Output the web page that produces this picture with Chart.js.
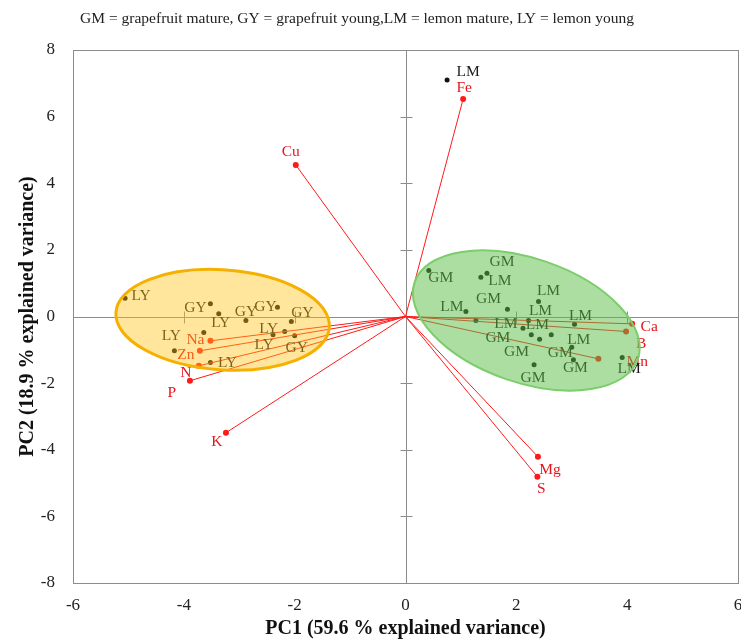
<!DOCTYPE html>
<html>
<head>
<meta charset="utf-8">
<script src="https://cdn.jsdelivr.net/npm/chart.js@4.4.1/dist/chart.umd.min.js"></script>
<style>
  html, body { margin: 0; padding: 0; background: #fff; }
</style>
</head>
<body>
<canvas id="myChart" width="741" height="642"></canvas>
<script>
// texts
const headerText = 'GM = grapefruit mature, GY = grapefruit young,LM = lemon mature, LY = lemon young';
const xTitle = 'PC1 (59.6 % explained variance)';
const yTitle = 'PC2 (18.9 % explained variance)';
const xTicks = [-6, -4, -2, 0, 2, 4, 6];
const yTicks = [-8, -6, -4, -2, 0, 2, 4, 6, 8];

// sample scores (PC1, PC2)
const gmPC1 = [0.42, 1.47, 1.84, 1.27, 2.42, 2.63, 2.32, 3.03];
const gmPC2 = [1.38, 1.30, 0.22, -0.12, -0.68, -0.55, -1.45, -1.30];
const gyPC1 = [-3.52, -2.88, -2.31, -2.06, -2.00];
const gyPC2 = [0.38, -0.12, 0.28, -0.15, -0.58];
const lmPC1 = [0.75, 1.36, 1.09, 2.40, 2.22, 2.12, 2.27, 3.05, 3.00, 3.91];
const lmPC2 = [7.10, 1.18, 0.15, 0.45, -0.12, -0.35, -0.55, -0.23, -0.92, -1.23];
const lyPC1 = [-5.06, -3.37, -3.64, -4.17, -3.52, -2.39, -2.18];
const lyPC2 = [0.55, 0.08, -0.48, -1.03, -1.38, -0.55, -0.45];

// variable loadings
const variableNames = ['Cu', 'Fe', 'K', 'Mg', 'S', 'Ca', 'B', 'Mn', 'Na', 'Zn', 'N', 'P'];
const loadPC1 = [-1.98, 1.04, -3.24, 2.39, 2.38, 4.09, 3.98, 3.48, -3.52, -3.71, -3.73, -3.89];
const loadPC2 = [4.55, 6.53, -3.49, -4.21, -4.81, -0.22, -0.45, -1.27, -0.73, -1.03, -1.48, -1.93];

// group ellipses (young / mature)
const ellipseCenterX = [-3.30, 2.18];
const ellipseCenterY = [-0.10, -0.12];
const ellipseRadiusX = [1.93, 2.13];
const ellipseRadiusY = [1.50, 1.86];
const ellipseAngle = [4, 19];

// label placement (pixel offsets from the point)
const gmLabelOffsets = [[12, 7], [15, -11], [-19, -10], [22, 17], [-23, 13], [9, 18], [-1, 13], [2, 8]];
const gyLabelOffsets = [[-15, 4], [0, -9], [-12, 0], [11, -9], [2, 12]];
const lmLabelOffsets = [[21, -8], [19, 4], [-14, -5], [10, -11], [12, -10], [-17, -4], [6, -10], [6, -8], [7, -7], [7, 11]];
const lyLabelOffsets = [[16, -2], [2, 9], null, [-3, -15], [17, 0], [-9, 10], [-16, -3]];
const varLabelOffsets = [[-5, -13], [1, -11], [-9, 9], [12, 13], [4, 12], [17, 3], [15, 12], [39, 3], [-15, -1], [-14, 4], [-13, 7], [-18, 12]];

const serif = "'Liberation Serif', 'Times New Roman', serif";
const red = '#ff1a1a';

function pts(xs, ys) {
  return xs.map((v, i) => ({ x: v, y: ys[i] }));
}

const datasets = [];

variableNames.forEach((name, i) => {
  datasets.push({
    data: [{ x: 0, y: 0 }, { x: loadPC1[i], y: loadPC2[i] }],
    showLine: true,
    borderColor: red,
    borderWidth: 1,
    pointRadius: [0, 3],
    pointBackgroundColor: red,
    pointBorderWidth: 0,
    pointLabels: ['', name],
    labelOffsets: [null, varLabelOffsets[i]],
    labelColor: '#e8141c'
  });
});

function sampleSet(name, xs, ys, offsets) {
  return {
    data: pts(xs, ys),
    showLine: false,
    pointRadius: 2.5,
    pointBackgroundColor: '#111',
    pointBorderWidth: 0,
    pointLabels: xs.map(() => name),
    labelOffsets: offsets,
    labelColor: '#1a1a1a'
  };
}

datasets.push(sampleSet('GM', gmPC1, gmPC2, gmLabelOffsets));
datasets.push(sampleSet('GY', gyPC1, gyPC2, gyLabelOffsets));
datasets.push(sampleSet('LM', lmPC1, lmPC2, lmLabelOffsets));
datasets.push(sampleSet('LY', lyPC1, lyPC2, lyLabelOffsets));

const framePlugin = {
  id: 'frame',
  beforeDatasetsDraw(chart) {
    const { ctx, chartArea: a, scales: { x, y } } = chart;
    const x0 = Math.round(x.getPixelForValue(0)) + 0.5;
    const y0 = Math.round(y.getPixelForValue(0)) + 0.5;
    ctx.save();
    ctx.strokeStyle = '#8c8c8c';
    ctx.lineWidth = 1;
    ctx.strokeRect(Math.round(a.left) + 0.5, Math.round(a.top) + 0.5, Math.round(a.width), Math.round(a.height));
    ctx.beginPath();
    ctx.moveTo(a.left, y0); ctx.lineTo(a.right, y0);
    ctx.moveTo(x0, a.top); ctx.lineTo(x0, a.bottom);
    xTicks.forEach(v => {
      if (v === 0 || v === -6 || v === 6) return;
      const px = Math.round(x.getPixelForValue(v)) + 0.5;
      ctx.moveTo(px, y0 - 6); ctx.lineTo(px, y0 + 6);
    });
    yTicks.forEach(v => {
      if (v === 0 || v === -8 || v === 8) return;
      const py = Math.round(y.getPixelForValue(v)) + 0.5;
      ctx.moveTo(x0 - 6, py); ctx.lineTo(x0 + 6, py);
    });
    ctx.stroke();
    ctx.restore();
  }
};

const labelPlugin = {
  id: 'pointText',
  afterDatasetsDraw(chart) {
    const { ctx } = chart;
    ctx.save();
    ctx.font = '15.5px ' + serif;
    ctx.textAlign = 'center';
    ctx.textBaseline = 'middle';
    chart.data.datasets.forEach((ds, di) => {
      const meta = chart.getDatasetMeta(di);
      meta.data.forEach((el, j) => {
        const off = ds.labelOffsets[j];
        if (!off || !ds.pointLabels[j]) return;
        ctx.fillStyle = ds.labelColor;
        ctx.fillText(ds.pointLabels[j], el.x + off[0], el.y + off[1]);
      });
    });
    ctx.restore();
  }
};

const ellipsePlugin = {
  id: 'groupEllipses',
  afterDatasetsDraw(chart) {
    const { ctx, scales: { x, y } } = chart;
    const fills = ['rgba(255, 196, 20, 0.42)', 'rgba(90, 190, 70, 0.5)'];
    const strokes = ['#f5b000', '#7ccd6c'];
    const widths = [3, 2];
    ctx.save();
    ellipseCenterX.forEach((cx, i) => {
      const px = x.getPixelForValue(cx);
      const py = y.getPixelForValue(ellipseCenterY[i]);
      const rx = Math.abs(x.getPixelForValue(cx + ellipseRadiusX[i]) - px);
      const ry = Math.abs(y.getPixelForValue(ellipseCenterY[i] + ellipseRadiusY[i]) - py);
      ctx.beginPath();
      ctx.ellipse(px, py, rx, ry, ellipseAngle[i] * Math.PI / 180, 0, Math.PI * 2);
      ctx.fillStyle = fills[i];
      ctx.fill();
      ctx.lineWidth = widths[i];
      ctx.strokeStyle = strokes[i];
      ctx.stroke();
    });
    ctx.restore();
  }
};

const headerPlugin = {
  id: 'header',
  afterDraw(chart) {
    const { ctx } = chart;
    ctx.save();
    ctx.font = '15.5px ' + serif;
    ctx.fillStyle = '#222';
    ctx.textAlign = 'center';
    ctx.textBaseline = 'middle';
    ctx.fillText(headerText, 357, 19);
    ctx.restore();
  }
};

const ctx = document.getElementById('myChart').getContext('2d');
new Chart(ctx, {
  type: 'scatter',
  data: { datasets: datasets },
  options: {
    responsive: false,
    animation: false,
    layout: { autoPadding: false, padding: { top: 50, right: 3, left: 0, bottom: 1 } },
    plugins: { legend: { display: false }, tooltip: { enabled: false } },
    scales: {
      x: {
        type: 'linear',
        min: -6,
        max: 6,
        afterBuildTicks: s => { s.ticks = xTicks.map(v => ({ value: v })); },
        afterFit: s => { s.height = 58; s.paddingLeft = 0; s.paddingRight = 0; },
        grid: { display: false, drawTicks: false },
        border: { display: false },
        ticks: { padding: 12, color: '#222', font: { family: serif, size: 17 } },
        title: { display: true, text: xTitle, color: '#111', padding: { top: 0, bottom: 0 }, font: { family: serif, size: 20, weight: 'bold' } }
      },
      y: {
        type: 'linear',
        min: -8,
        max: 8,
        afterBuildTicks: s => { s.ticks = yTicks.map(v => ({ value: v })); },
        afterFit: s => { s.width = 73; s.paddingTop = 0; s.paddingBottom = 0; },
        grid: { display: false, drawTicks: false },
        border: { display: false },
        ticks: { padding: 18, color: '#222', font: { family: serif, size: 17 } },
        title: { display: true, text: yTitle, color: '#111', padding: { top: 16, bottom: 0 }, font: { family: serif, size: 20, weight: 'bold' } }
      }
    }
  },
  plugins: [framePlugin, labelPlugin, ellipsePlugin, headerPlugin]
});
</script>
</body>
</html>
